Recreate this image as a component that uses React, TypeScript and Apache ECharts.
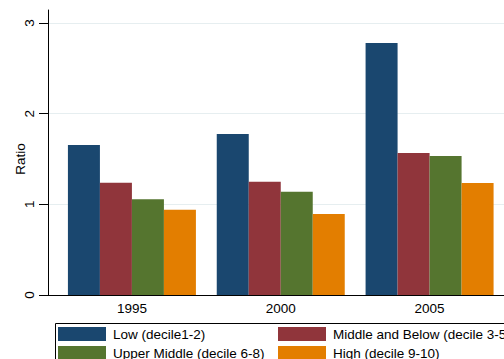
import React, { useEffect, useRef } from "react";
import * as echarts from "echarts";

const categories = ["1995", "2000", "2005"];
const seriesNames = [
  "Low (decile1-2)",
  "Middle and Below (decile 3-5)",
  "Upper Middle (decile 6-8)",
  "High (decile 9-10)",
];
const lowValues = [1.654, 1.776, 2.78];
const middleBelowValues = [1.239, 1.25, 1.566];
const upperMiddleValues = [1.055, 1.14, 1.533];
const highValues = [0.941, 0.893, 1.235];
const seriesValues = [lowValues, middleBelowValues, upperMiddleValues, highValues];
const seriesColors = ["#1a476f", "#90353b", "#55752f", "#e37e00"];
const yMax = 3;
const yInterval = 1;

const FONT = "Liberation Sans";
const FS = 13.5;

// legend slot positions (column x, row y) for each series
const legendLefts = [58, 278, 58, 278];
const legendTops = [327, 327, 346, 346];

export default function App() {
  const ref = useRef<HTMLDivElement>(null);
  useEffect(() => {
    if (!ref.current) return;
    const chart = echarts.init(ref.current, null, { renderer: "svg" });
    const option: any = {
      animation: false,
      backgroundColor: "#ffffff",
      textStyle: { fontFamily: FONT, color: "#000" },
      grid: [
        { left: 48, top: 10, width: 469, bottom: 64 },
        { left: 48, top: 23, width: 469, bottom: 64 },
        { left: 57.5, top: 23, width: 450, bottom: 64 },
      ],
      xAxis: [
        {
          gridIndex: 0,
          type: "value",
          min: 0,
          max: 1,
          axisLine: { show: true, lineStyle: { color: "#000", width: 1 } },
          axisTick: { show: false },
          axisLabel: { show: false },
          splitLine: { show: false },
        },
        { gridIndex: 1, type: "value", show: false },
        {
          gridIndex: 2,
          type: "category",
          data: categories,
          axisLine: { show: false },
          axisTick: { show: false },
          axisLabel: { margin: 6, fontSize: FS, color: "#000", fontFamily: FONT },
        },
      ],
      yAxis: [
        {
          gridIndex: 0,
          type: "value",
          min: 0,
          max: 1,
          axisLine: { show: true, lineStyle: { color: "#000", width: 1 } },
          axisTick: { show: false },
          axisLabel: { show: false },
          splitLine: { show: false },
        },
        {
          gridIndex: 1,
          type: "value",
          min: 0,
          max: yMax,
          interval: yInterval,
          name: "Ratio",
          nameLocation: "middle",
          nameGap: 21,
          nameMoveOverlap: false,
          nameTextStyle: { fontSize: FS, color: "#000", fontFamily: FONT },
          axisLine: { show: false },
          axisTick: { show: true, length: 9, lineStyle: { color: "#000", width: 1 } },
          axisLabel: { rotate: 90, margin: 12, fontSize: FS, color: "#000", fontFamily: FONT },
          splitLine: { show: true, lineStyle: { color: "#e6eef0", width: 1 } },
        },
        { gridIndex: 2, type: "value", min: 0, max: yMax, show: false },
      ],
      legend: seriesNames.map((name, i) => ({
        data: [name],
        left: legendLefts[i],
        top: legendTops[i],
        padding: 0,
        itemWidth: 48,
        itemHeight: 14,
        icon: "rect",
        textStyle: { fontSize: FS, color: "#000", fontFamily: FONT, padding: [0, 0, 0, 2] },
      })),
      graphic: [
        {
          type: "rect",
          left: 53,
          top: 321,
          shape: { x: 0, y: 0, width: 520, height: 60 },
          style: { fill: "none", stroke: "#000", lineWidth: 1 },
          silent: true,
        },
      ],
      series: seriesNames.map((name, i) => ({
        name,
        type: "bar",
        xAxisIndex: 2,
        yAxisIndex: 2,
        data: seriesValues[i],
        barGap: 0,
        barCategoryGap: "14%",
        itemStyle: { color: seriesColors[i] },
      })),
    };
    chart.setOption(option);
    return () => chart.dispose();
  }, []);
  return (
    <div
      ref={ref}
      style={{ position: "fixed", left: 0, top: 0, width: 504, height: 359, background: "#fff" }}
    />
  );
}
